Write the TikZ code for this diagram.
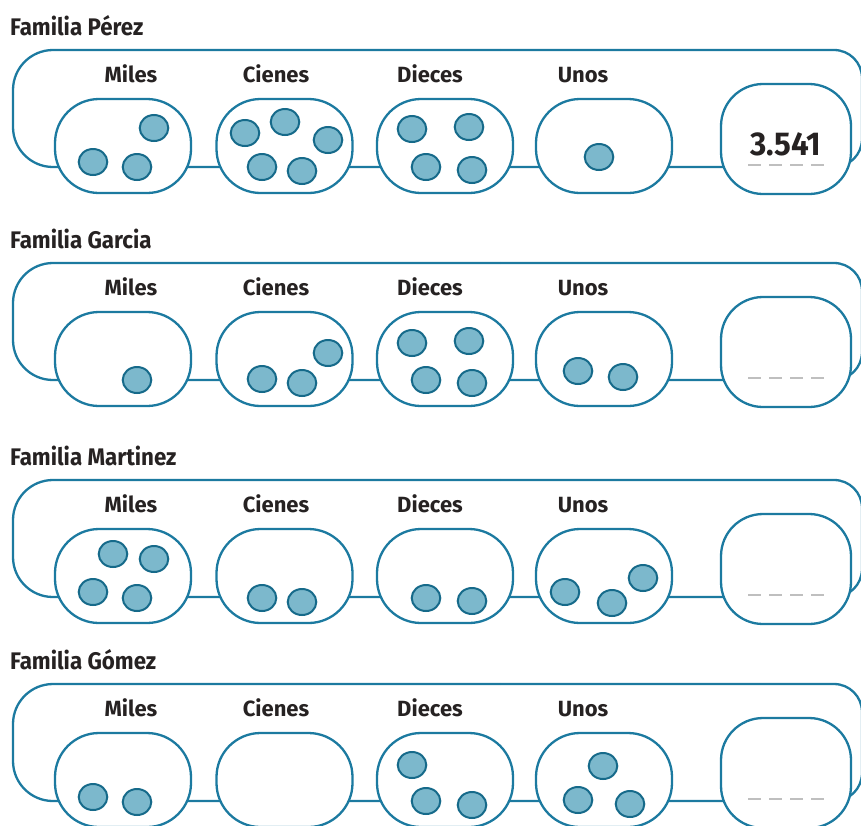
\documentclass[tikz,border=0pt]{standalone}
\usepackage{fontspec}
\setmainfont{Fira Sans}
\definecolor{framec}{RGB}{28,122,160}
\definecolor{dotfill}{RGB}{124,184,204}
\definecolor{dotline}{RGB}{22,106,138}
\definecolor{txtc}{RGB}{38,34,34}
\tikzset{
  framest/.style={draw=framec, line width=2.3pt},
  digitbox/.style={draw=framec, fill=white, line width=2.3pt, rounded corners=44pt,
     minimum width=136pt, minimum height=94pt, inner sep=0pt},
  ansbox/.style={draw=framec, fill=white, line width=2.3pt, rounded corners=42pt,
     minimum width=130pt, minimum height=110pt, inner sep=0pt},
  colname/.style={font=\bfseries\fontsize{22}{22}\selectfont, text=txtc, anchor=base, inner sep=0pt},
  famtitle/.style={font=\bfseries\fontsize{24}{24}\selectfont, text=txtc, anchor=base west, inner sep=0pt},
  answer/.style={font=\fontsize{33}{33}\selectfont\bfseries, text=txtc, anchor=base, inner sep=0pt},
  blank/.style={draw=black!25, line width=2pt, dash pattern=on 13pt off 8pt},
  dotst/.style={draw=dotline, fill=dotfill, line width=2pt}
}
\newcommand\pdot[2]{\draw[dotst] (#1,#2) ellipse [x radius=14.3pt, y radius=13pt];}
\begin{document}
\begin{tikzpicture}[x=1pt,y=-1pt]
\useasboundingbox (0,0) rectangle (861,825);
\clip (0,0) rectangle (861,825);
\foreach \oy/\fam/\nm in {0/Pérez/a, 213/Garcia/b, 430/Martinez/c, 634/Gómez/d}{
  \begin{scope}[shift={(0,\oy)}]
    \node[famtitle] (\nm t) at (10,35) {\scalebox{0.93}[1]{Familia \fam}};
    \draw[framest, rounded corners=40pt] (500,50) -- (13,50) -- (13,167) -- (60,167);
    \draw[framest, rounded corners=28pt] (500,50) -- (862,50) -- (862,167) -- (60,167);
    \node[digitbox] (\nm m) at (123,146) {};
    \node[digitbox] (\nm c) at (284.5,146) {};
    \node[digitbox] (\nm d) at (445,146) {};
    \node[digitbox] (\nm u) at (604,146) {};
    \node[ansbox] (\nm r) at (786,139) {};
    \node[colname] (\nm lm) at (131,82) {Miles};
    \node[colname] (\nm lc) at (276,82) {Cienes};
    \node[colname] (\nm ld) at (430,82) {Dieces};
    \node[colname] (\nm lu) at (583,82) {Unos};
    \coordinate (\nm b1) at (748,164.5);
    \coordinate (\nm b2) at (830,164.5);
    \draw[blank] (\nm b1) -- (\nm b2);
  \end{scope}
}
\node[answer] (ans) at (786,155) {\scalebox{0.95}[1]{3.541}};
% Row 1 dots
\pdot{154}{128}\pdot{93}{162}\pdot{137}{167}
\pdot{245}{133}\pdot{285}{122}\pdot{328}{140}\pdot{262}{167}\pdot{302}{171}
\pdot{412}{129}\pdot{469}{127}\pdot{426}{167}\pdot{472}{170}
\pdot{599}{157}
% Row 2 dots
\pdot{137}{380}
\pdot{328}{353}\pdot{262}{379}\pdot{302}{383}
\pdot{412}{343}\pdot{469}{341}\pdot{426}{380}\pdot{472}{383}
\pdot{578}{371}\pdot{623}{377}
% Row 3 dots
\pdot{113}{554}\pdot{154}{559}\pdot{93}{592}\pdot{137}{598}
\pdot{262}{598}\pdot{302}{602}
\pdot{426}{598}\pdot{472}{601}
\pdot{565}{592}\pdot{612}{603}\pdot{643}{578}
% Row 4 dots
\pdot{93}{797}\pdot{137}{802}
\pdot{412}{765}\pdot{426}{801}\pdot{472}{805}
\pdot{603}{766}\pdot{578}{800}\pdot{630}{804}
\end{tikzpicture}
\end{document}
